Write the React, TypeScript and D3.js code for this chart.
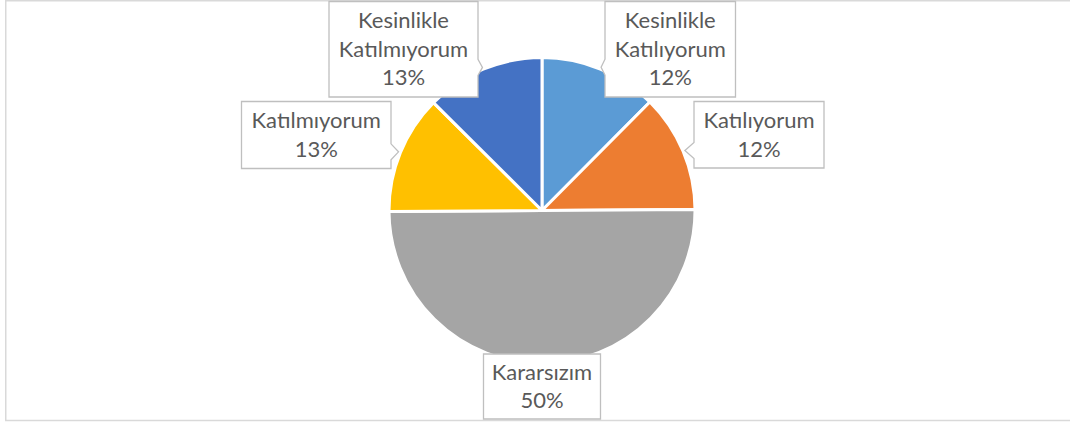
import React from "react";
import * as d3 from "d3";

const categories = [
  "Kesinlikle Katılıyorum",
  "Katılıyorum",
  "Kararsızım",
  "Katılmıyorum",
  "Kesinlikle Katılmıyorum",
];
const values = [12.45, 12.45, 50, 12.55, 12.55];
const labelLines = [
  ["Kesinlikle", "Katılıyorum"],
  ["Katılıyorum"],
  ["Kararsızım"],
  ["Katılmıyorum"],
  ["Kesinlikle", "Katılmıyorum"],
];
const colors = ["#5B9BD5", "#ED7D31", "#A5A5A5", "#FFC000", "#4472C4"];

// label box layout: [x0, y0, x1, y1, pointer side]
const boxes: [number, number, number, number, string][] = [
  [605, 1.5, 735.5, 97, "left"],
  [694, 101.5, 824, 168, "left"],
  [483.5, 354, 600.5, 419, "none"],
  [241.5, 101.5, 391, 168.5, "right"],
  [329, 1.5, 478, 97, "right"],
];

const W = 1070;
const H = 423;
const cx = 542;
const cy = 210.5;
const R = 153;
const LINE = 28.5;
const FONT = 22;

function boxPath(b: [number, number, number, number, string], tip: [number, number]) {
  const [x0, y0, x1, y1, side] = b;
  const hw = 8;
  if (side === "left" || side === "right") {
    const yc = Math.max(y0 + hw + 2, Math.min(y1 - hw - 2, tip[1]));
    if (side === "left") {
      return `M${x0},${y0}H${x1}V${y1}H${x0}V${yc + hw}L${tip[0]},${tip[1]}L${x0},${yc - hw}Z`;
    }
    return `M${x0},${y0}H${x1}V${yc - hw}L${tip[0]},${tip[1]}L${x1},${yc + hw}V${y1}H${x0}Z`;
  }
  return `M${x0},${y0}H${x1}V${y1}H${x0}Z`;
}

export default function App() {
  const pie = d3
    .pie<number>()
    .sort(null)
    .value((d) => d)
    .startAngle(0)
    .endAngle(2 * Math.PI);
  const arcs = pie(values);
  const arc = d3.arc<d3.PieArcDatum<number>>().innerRadius(0).outerRadius(R);
  const total = d3.sum(values);

  return (
    <svg
      width={W}
      height={H}
      style={{ position: "absolute", left: 0, top: 0, background: "#fff" }}
      fontFamily="Lato, 'Open Sans', sans-serif"
    >
      <rect x={5.75} y={0.75} width={1080} height={419.75} fill="#fff" stroke="#D9D9D9" strokeWidth={1.5} />
      <g transform={`translate(${cx},${cy})`}>
        {arcs.map((a, i) => (
          <path key={categories[i]} d={arc(a) || ""} fill={colors[i]} stroke="#fff" strokeWidth={3} strokeLinejoin="round" />
        ))}
      </g>
      {arcs.map((a, i) => {
        const mid = (a.startAngle + a.endAngle) / 2;
        const tip: [number, number] = [cx + (R + 2) * Math.sin(mid), cy - (R + 2) * Math.cos(mid)];
        const b = boxes[i];
        const lines = [...labelLines[i], `${Math.round((values[i] / total) * 100)}%`];
        const mx = (b[0] + b[2]) / 2;
        const my = (b[1] + b[3]) / 2;
        const firstBaseline = my + 7.5 - ((lines.length - 1) * LINE) / 2;
        return (
          <g key={"lbl" + i}>
            <path d={boxPath(b, tip)} fill="#fff" stroke="#BFBFBF" strokeWidth={1.3} />
            <text textAnchor="middle" fill="#595959" fontSize={FONT}>
              {lines.map((t, j) => (
                <tspan key={j} x={mx} y={firstBaseline + j * LINE}>
                  {t}
                </tspan>
              ))}
            </text>
          </g>
        );
      })}
    </svg>
  );
}
